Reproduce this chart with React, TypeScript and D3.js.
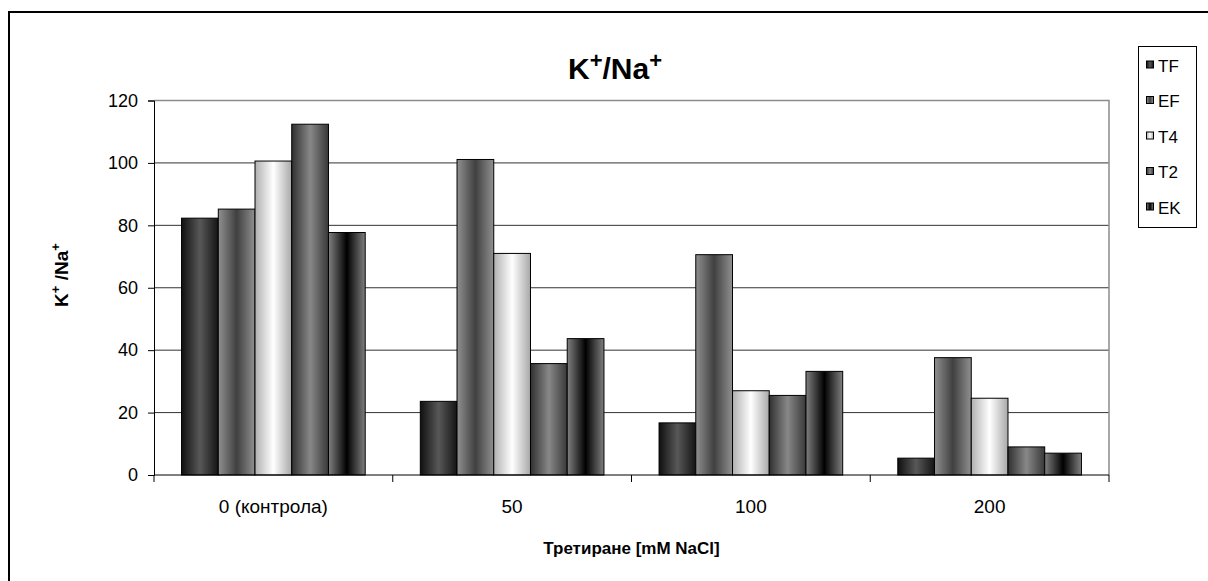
import React, { useEffect, useRef } from "react";
import * as d3 from "d3";

const categories = ["0 (контрола)", "50", "100", "200"];
const seriesNames = ["TF", "EF", "T4", "T2", "EK"];
const TF = [82.3, 23.6, 16.7, 5.4];
const EF = [85.2, 101.1, 70.6, 37.6];
const T4 = [100.6, 71.0, 27.0, 24.6];
const T2 = [112.4, 35.7, 25.5, 9.0];
const EK = [77.7, 43.7, 33.2, 7.0];
const yTicks = [0, 20, 40, 60, 80, 100, 120];

const seriesValues = [TF, EF, T4, T2, EK];

const gradients: { id: string; stops: [number, string][] }[] = [
  { id: "gTF", stops: [[0, "#101010"], [0.5, "#585858"], [1, "#141414"]] },
  { id: "gEF", stops: [[0, "#909090"], [0.5, "#404040"], [1, "#909090"]] },
  { id: "gT4", stops: [[0, "#b0b0b0"], [0.5, "#ffffff"], [1, "#a8a8a8"]] },
  { id: "gT2", stops: [[0, "#303030"], [0.5, "#888888"], [1, "#383838"]] },
  { id: "gEK", stops: [[0, "#808080"], [0.5, "#000000"], [1, "#808080"]] },
];

export default function App() {
  const ref = useRef<SVGSVGElement>(null);

  useEffect(() => {
    const svg = d3.select(ref.current);
    svg.selectAll("*").remove();
    const font = "'Liberation Sans', Arial, sans-serif";

    const defs = svg.append("defs");
    gradients.forEach((g) => {
      const lg = defs.append("linearGradient").attr("id", g.id).attr("x1", 0).attr("x2", 1).attr("y1", 0).attr("y2", 0);
      g.stops.forEach(([o, c]) => lg.append("stop").attr("offset", o).attr("stop-color", c));
    });

    svg.append("rect").attr("width", 1208).attr("height", 581).attr("fill", "#fff");
    // outer border
    svg.append("rect").attr("x", 9).attr("y", 12).attr("width", 1220).attr("height", 600)
      .attr("fill", "none").attr("stroke", "#000").attr("stroke-width", 2);

    const left = 154, right = 1109, top = 100.5, bottom = 475;
    const y = d3.scaleLinear().domain([0, 120]).range([bottom, top]);
    const x0 = d3.scaleBand().domain(categories).range([left, right]).paddingInner(0).paddingOuter(0);
    const bw = x0.bandwidth();
    const groupW = (bw * 5) / 6.5;
    const x1 = d3.scaleBand().domain(seriesNames).range([(bw - groupW) / 2, (bw + groupW) / 2]);

    // gridlines
    svg.append("g").selectAll("line").data(yTicks.filter((t) => t > 0 && t < 120)).join("line")
      .attr("x1", left).attr("x2", right).attr("y1", (d) => y(d)).attr("y2", (d) => y(d))
      .attr("stroke", "#333").attr("stroke-width", 1);
    // plot top & right border (grey)
    svg.append("path").attr("d", `M${left},${y(120)}H${right}V${bottom}`)
      .attr("fill", "none").attr("stroke", "#8c8c8c").attr("stroke-width", 1.5);

    // bars
    const g = svg.append("g");
    categories.forEach((c, ci) => {
      seriesNames.forEach((s, si) => {
        const v = seriesValues[si][ci];
        g.append("rect")
          .attr("x", (x0(c) as number) + (x1(s) as number))
          .attr("y", y(v))
          .attr("width", x1.bandwidth())
          .attr("height", bottom - y(v))
          .attr("fill", `url(#${gradients[si].id})`)
          .attr("stroke", "#000").attr("stroke-width", 1);
      });
    });

    // y axis
    const yAxis = svg.append("g").attr("transform", `translate(${left},0)`)
      .call(d3.axisLeft(y).tickValues(yTicks).tickSize(6).tickPadding(10));
    yAxis.select(".domain").attr("stroke", "#000");
    yAxis.selectAll("line").attr("stroke", "#000");
    yAxis.selectAll("text").attr("font-family", font).attr("font-size", 18).attr("fill", "#000");

    // x axis
    svg.append("line").attr("x1", left).attr("x2", right).attr("y1", bottom).attr("y2", bottom)
      .attr("stroke", "#000");
    const bounds = [...categories.map((c) => x0(c) as number), right];
    svg.append("g").selectAll("line").data(bounds).join("line")
      .attr("x1", (d) => d).attr("x2", (d) => d).attr("y1", bottom).attr("y2", bottom + 7)
      .attr("stroke", "#000");
    svg.append("g").selectAll("text").data(categories).join("text")
      .attr("x", (d) => (x0(d) as number) + bw / 2).attr("y", 513)
      .attr("text-anchor", "middle").attr("font-family", font).attr("font-size", 19)
      .text((d) => d);

    // title
    const title = svg.append("text").attr("x", 615).attr("y", 79)
      .attr("text-anchor", "middle").attr("font-family", font).attr("font-weight", "bold").attr("font-size", 30);
    title.append("tspan").text("K");
    title.append("tspan").attr("dy", -11).attr("font-size", 22).text("+");
    title.append("tspan").attr("dy", 11).text("/Na");
    title.append("tspan").attr("dy", -11).attr("font-size", 22).text("+");

    // y title
    const yt = svg.append("text").attr("transform", `translate(68,275) rotate(-90)`)
      .attr("text-anchor", "middle").attr("font-family", font).attr("font-weight", "bold").attr("font-size", 19);
    yt.append("tspan").text("K");
    yt.append("tspan").attr("dy", -8).attr("font-size", 13).text("+");
    yt.append("tspan").attr("dy", 8).text(" /Na");
    yt.append("tspan").attr("dy", -8).attr("font-size", 13).text("+");

    // x title
    svg.append("text").attr("x", (left + right) / 2).attr("y", 554).attr("text-anchor", "middle")
      .attr("font-family", font).attr("font-weight", "bold").attr("font-size", 17)
      .text("Третиране [mM NaCl]");

    // legend
    const lg = svg.append("g");
    lg.append("rect").attr("x", 1138.5).attr("y", 46.5).attr("width", 58).attr("height", 181)
      .attr("fill", "#fff").attr("stroke", "#000").attr("stroke-width", 1);
    seriesNames.forEach((s, i) => {
      const cy = 65 + i * 35.5;
      lg.append("rect").attr("x", 1146.5).attr("y", cy - 4).attr("width", 7).attr("height", 7)
        .attr("fill", `url(#${gradients[i].id})`).attr("stroke", "#000").attr("stroke-width", 1);
      lg.append("text").attr("x", 1158).attr("y", cy + 6.5).attr("font-family", font).attr("font-size", 17)
        .text(s);
    });
  }, []);

  return (
    <svg ref={ref} width={1208} height={581} style={{ position: "absolute", left: 0, top: 0, display: "block" }} />
  );
}
